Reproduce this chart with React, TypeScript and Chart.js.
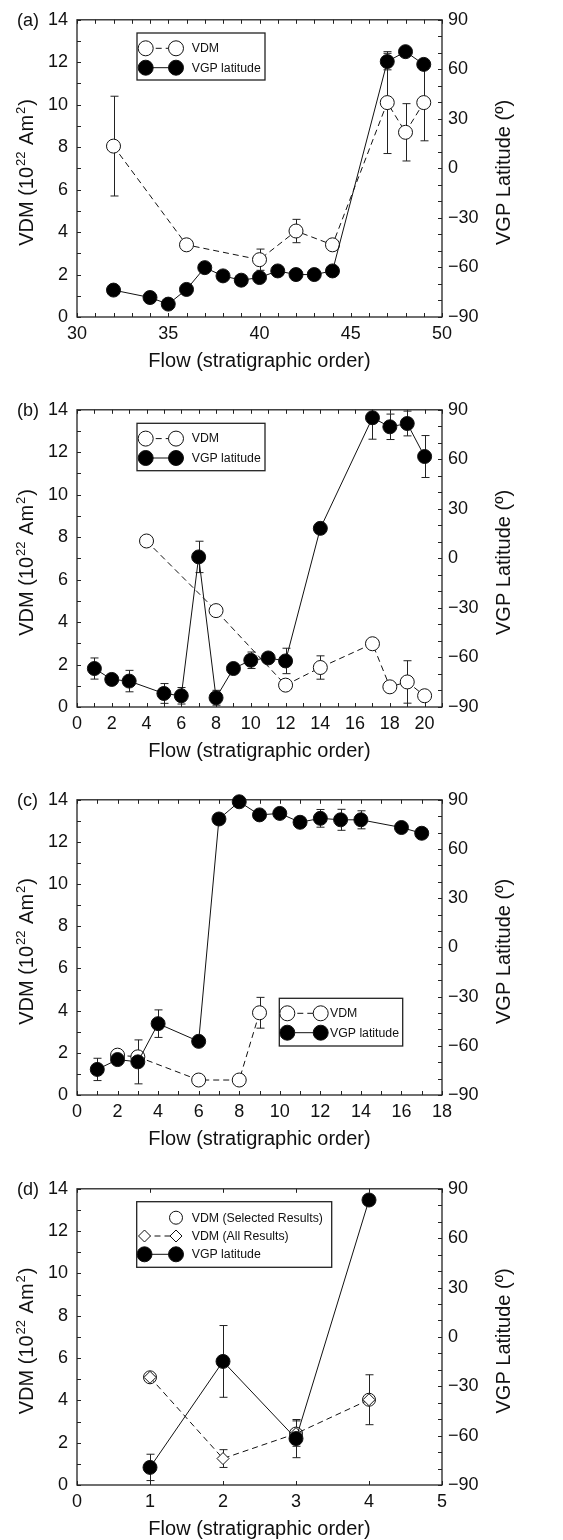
import React, { useEffect, useRef } from 'react';
import { Chart, registerables } from 'chart.js';
Chart.register(...registerables);

// ---------------- Panel (a) data ----------------
const aFlowVDM = [32, 36, 40, 42, 44, 47, 48, 49];
const aVDM = [8.05, 3.4, 2.7, 4.05, 3.4, 10.1, 8.7, 10.1];
const aVDMErr = [2.35, 0, 0.5, 0.55, 0, 2.4, 1.35, 1.8];
const aFlowVGP = [32, 34, 35, 36, 37, 38, 39, 40, 41, 42, 43, 44, 47, 48, 49];
const aVGP = [-73.7, -78.2, -82.2, -73.3, -60.1, -65.1, -67.7, -66.1, -62.1, -64.3, -64.3, -62.1, 64.7, 70.7, 63];
const aVGPErr = [0, 0, 0, 0, 0, 0, 0, 0, 0, 0, 0, 0, 5, 0, 0];
const aXTicks = [30, 35, 40, 45, 50];

// ---------------- Panel (b) data ----------------
const bFlowVDM = [4, 8, 12, 14, 17, 18, 19, 20];
const bVDM = [7.82, 4.54, 1.03, 1.86, 2.98, 0.95, 1.18, 0.53];
const bVDMErr = [0, 0, 0, 0.55, 0, 0, 1.0, 0];
const bFlowVGP = [1, 2, 3, 5, 6, 7, 8, 9, 10, 11, 12, 14, 17, 18, 19, 20];
const bVGP = [-66.7, -73.3, -74.3, -81.8, -83.2, 0.9, -84.4, -66.7, -61.7, -60.3, -62.1, 18.2, 85.2, 79.7, 81.7, 61.7];
const bVGPErr = [6.4, 0, 6.5, 6, 5, 9.5, 4.5, 0, 5, 0, 7.7, 0, 13, 7.7, 7.5, 12.7];
const bXTicks = [0, 2, 4, 6, 8, 10, 12, 14, 16, 18, 20];

// ---------------- Panel (c) data ----------------
const cFlowVDM = [2, 3, 6, 8, 9];
const cVDM = [1.89, 1.81, 0.71, 0.71, 3.9];
const cVDMErr = [0, 0, 0, 0, 0.73];
const cFlowVGP = [1, 2, 3, 4, 6, 7, 8, 9, 10, 11, 12, 13, 14, 16, 17];
const cVGP = [-74.4, -68.4, -69.8, -46.5, -57.3, 78.3, 88.8, 80.8, 81.7, 76.3, 78.7, 77.8, 77.8, 73.1, 69.6];
const cVGPErr = [6.8, 0, 13.4, 8.4, 0, 0, 0, 0, 0, 0, 5.4, 6.4, 5.5, 0, 0];
const cXTicks = [0, 2, 4, 6, 8, 10, 12, 14, 16, 18];

// ---------------- Panel (d) data ----------------
const dFlowAll = [1, 2, 3, 4];
const dVDMAll = [5.09, 1.25, 2.43, 4.03];
const dVDMAllErr = [0, 0.42, 0.6, 1.18];
const dFlowSel = [1, 3, 4];
const dVDMSel = [5.09, 2.43, 4.03];
const dFlowVGP = [1, 2, 3, 4];
const dVGP = [-79.3, -14.9, -61.8, 83.2];
const dVGPErr = [8, 21.8, 11.6, 0];
const dXTicks = [0, 1, 2, 3, 4, 5];

// ---------------- shared axis ticks ----------------
const vdmTicks = [0, 2, 4, 6, 8, 10, 12, 14];
const latTicks = [-90, -60, -30, 0, 30, 60, 90];

const FONT = 'Liberation Sans, Arial, Helvetica, sans-serif';
const INK = '#111';
const W = 563;
const PLOT_LEFT = 77;
const PLOT_RIGHT = 442;

type Style = 'open' | 'filled' | 'diamond';
type Series = {
  xs: number[];
  ys: number[];
  errs?: number[];
  axis: 'y' | 'y2';
  style: Style;
  line: 'solid' | 'dashed' | 'none';
  r: number;
};
type LegendItem = { label: string; style: Style; line: 'solid' | 'dashed' | 'none'; r: number; left: boolean };
type LegendCfg = { x: number; y: number; w: number; h: number; rows: number[]; mL: number; mR: number; tX: number; items: LegendItem[] };
type PanelCfg = {
  label: string;
  top: number;
  height: number;
  plotTop: number;
  plotBottom: number;
  xMin: number;
  xMax: number;
  xTicks: number[];
  xMinor: number;
  series: Series[];
  legend: LegendCfg;
};

const vgpItem: LegendItem = { label: 'VGP latitude', style: 'filled', line: 'solid', r: 7.5, left: true };
const vdmItem: LegendItem = { label: 'VDM', style: 'open', line: 'dashed', r: 7.5, left: true };

const panels: PanelCfg[] = [
  {
    label: '(a)', top: 0, height: 385, plotTop: 18, plotBottom: 317,
    xMin: 30, xMax: 50, xTicks: aXTicks, xMinor: 1,
    series: [
      { xs: aFlowVGP, ys: aVGP, errs: aVGPErr, axis: 'y2', style: 'filled', line: 'solid', r: 7 },
      { xs: aFlowVDM, ys: aVDM, errs: aVDMErr, axis: 'y', style: 'open', line: 'dashed', r: 7 },
    ],
    legend: { x: 137, y: 33, w: 128, h: 47, rows: [48.3, 67.7], mL: 145.7, mR: 176, tX: 191.7, items: [vdmItem, vgpItem] },
  },
  {
    label: '(b)', top: 390, height: 385, plotTop: 18, plotBottom: 317,
    xMin: 0, xMax: 21, xTicks: bXTicks, xMinor: 1,
    series: [
      { xs: bFlowVGP, ys: bVGP, errs: bVGPErr, axis: 'y2', style: 'filled', line: 'solid', r: 7 },
      { xs: bFlowVDM, ys: bVDM, errs: bVDMErr, axis: 'y', style: 'open', line: 'dashed', r: 7 },
    ],
    legend: { x: 137, y: 33.3, w: 128, h: 47.4, rows: [48.6, 68], mL: 145.7, mR: 176, tX: 191.7, items: [vdmItem, vgpItem] },
  },
  {
    label: '(c)', top: 780, height: 385, plotTop: 18, plotBottom: 315,
    xMin: 0, xMax: 18, xTicks: cXTicks, xMinor: 1,
    series: [
      { xs: cFlowVGP, ys: cVGP, errs: cVGPErr, axis: 'y2', style: 'filled', line: 'solid', r: 7 },
      { xs: cFlowVDM, ys: cVDM, errs: cVDMErr, axis: 'y', style: 'open', line: 'dashed', r: 7 },
    ],
    legend: { x: 279.3, y: 218.3, w: 123.4, h: 47.7, rows: [233.3, 252.7], mL: 287.3, mR: 320.7, tX: 330, items: [vdmItem, vgpItem] },
  },
  {
    label: '(d)', top: 1169, height: 371, plotTop: 18, plotBottom: 316,
    xMin: 0, xMax: 5, xTicks: dXTicks, xMinor: 1,
    series: [
      { xs: dFlowVGP, ys: dVGP, errs: dVGPErr, axis: 'y2', style: 'filled', line: 'solid', r: 7 },
      { xs: dFlowAll, ys: dVDMAll, errs: dVDMAllErr, axis: 'y', style: 'diamond', line: 'dashed', r: 6 },
      { xs: dFlowSel, ys: dVDMSel, axis: 'y', style: 'open', line: 'none', r: 6.5 },
    ],
    legend: {
      x: 136.7, y: 32.7, w: 195, h: 65.6, rows: [48.7, 67, 85.3], mL: 144.5, mR: 176, tX: 191.7,
      items: [
        { label: 'VDM (Selected Results)', style: 'open', line: 'none', r: 6.5, left: false },
        { label: 'VDM (All Results)', style: 'diamond', line: 'dashed', r: 6, left: true },
        { label: 'VGP latitude', style: 'filled', line: 'solid', r: 7.5, left: true },
      ],
    },
  },
];

function drawMarker(ctx: CanvasRenderingContext2D, style: Style, x: number, y: number, r: number) {
  ctx.save();
  ctx.lineWidth = 1;
  ctx.strokeStyle = INK;
  ctx.setLineDash([]);
  ctx.beginPath();
  if (style === 'diamond') {
    ctx.moveTo(x, y - r);
    ctx.lineTo(x + r, y);
    ctx.lineTo(x, y + r);
    ctx.lineTo(x - r, y);
    ctx.closePath();
  } else {
    ctx.arc(x, y, r, 0, Math.PI * 2);
  }
  ctx.fillStyle = style === 'filled' ? '#000' : '#fff';
  ctx.fill();
  ctx.stroke();
  ctx.restore();
}

function makePlugin(cfg: PanelCfg) {
  return {
    id: 'paneldeco',
    beforeDatasetsDraw(chart: any) {
      const ctx: CanvasRenderingContext2D = chart.ctx;
      const a = chart.chartArea;
      const xs = chart.scales.x;
      const ys = chart.scales.y;
      const y2 = chart.scales.y2;
      ctx.save();
      // frame
      ctx.strokeStyle = '#222';
      ctx.lineWidth = 1.3;
      ctx.strokeRect(a.left, a.top, a.right - a.left, a.bottom - a.top);
      // inward ticks
      ctx.lineWidth = 1;
      ctx.beginPath();
      for (let v = cfg.xMin; v <= cfg.xMax + 1e-9; v += cfg.xMinor) {
        const px = Math.round(xs.getPixelForValue(v)) + 0.5;
        ctx.moveTo(px, a.bottom);
        ctx.lineTo(px, a.bottom - 4);
        ctx.moveTo(px, a.top);
        ctx.lineTo(px, a.top + 4);
      }
      for (let v = 0; v <= 14; v += 1) {
        const py = Math.round(ys.getPixelForValue(v)) + 0.5;
        ctx.moveTo(a.left, py);
        ctx.lineTo(a.left + 4, py);
      }
      for (let v = -90; v <= 90; v += 10) {
        const py = Math.round(y2.getPixelForValue(v)) + 0.5;
        ctx.moveTo(a.right, py);
        ctx.lineTo(a.right - 4, py);
      }
      ctx.stroke();

      // error bars
      ctx.save();
      ctx.beginPath();
      ctx.rect(a.left, a.top, a.right - a.left, a.bottom - a.top);
      ctx.clip();
      ctx.strokeStyle = '#222';
      ctx.lineWidth = 1;
      cfg.series.forEach((s) => {
        if (!s.errs) return;
        const sc = chart.scales[s.axis];
        s.xs.forEach((xv, i) => {
          const e = s.errs![i];
          if (!e) return;
          const px = Math.round(xs.getPixelForValue(xv)) + 0.5;
          const pt = sc.getPixelForValue(s.ys[i] + e);
          const pb = sc.getPixelForValue(s.ys[i] - e);
          ctx.beginPath();
          ctx.moveTo(px, pt);
          ctx.lineTo(px, pb);
          ctx.moveTo(px - 4, pt);
          ctx.lineTo(px + 4, pt);
          ctx.moveTo(px - 4, pb);
          ctx.lineTo(px + 4, pb);
          ctx.stroke();
        });
      });
      ctx.restore();
      ctx.restore();
    },
    afterDatasetsDraw(chart: any) {
      const ctx: CanvasRenderingContext2D = chart.ctx;
      const a = chart.chartArea;
      const lg = cfg.legend;
      ctx.save();
      // legend box
      ctx.fillStyle = '#fff';
      ctx.fillRect(lg.x, lg.y, lg.w, lg.h);
      ctx.strokeStyle = '#222';
      ctx.lineWidth = 1.3;
      ctx.strokeRect(lg.x, lg.y, lg.w, lg.h);
      lg.items.forEach((it, i) => {
        const ry = lg.rows[i];
        if (it.line !== 'none') {
          ctx.beginPath();
          ctx.strokeStyle = INK;
          ctx.lineWidth = 1;
          ctx.setLineDash(it.line === 'dashed' ? [6, 4] : []);
          ctx.moveTo(lg.mL, ry);
          ctx.lineTo(lg.mR, ry);
          ctx.stroke();
          ctx.setLineDash([]);
        }
        if (it.left) drawMarker(ctx, it.style, lg.mL, ry, it.r);
        drawMarker(ctx, it.style, lg.mR, ry, it.r);
        ctx.fillStyle = INK;
        ctx.font = `12.3px ${FONT}`;
        ctx.textAlign = 'left';
        ctx.textBaseline = 'middle';
        ctx.fillText(it.label, lg.tX, ry + 0.5);
      });

      // panel label
      ctx.fillStyle = INK;
      ctx.font = `18px ${FONT}`;
      ctx.textAlign = 'left';
      ctx.textBaseline = 'middle';
      ctx.fillText(cfg.label, 17, a.top + 1);

      // x title
      ctx.font = `20px ${FONT}`;
      ctx.textAlign = 'center';
      ctx.textBaseline = 'alphabetic';
      ctx.fillText('Flow (stratigraphic order)', (a.left + a.right) / 2, a.bottom + 49.5);

      const midY = (a.top + a.bottom) / 2 + 4;
      // left title with superscripts
      ctx.save();
      ctx.translate(33.3, midY);
      ctx.rotate(-Math.PI / 2);
      const parts: { t: string; sup: boolean }[] = [
        { t: 'VDM (10', sup: false },
        { t: '22', sup: true },
        { t: ' Am', sup: false },
        { t: '2', sup: true },
        { t: ')', sup: false },
      ];
      const big = `20px ${FONT}`;
      const small = `13px ${FONT}`;
      let total = 0;
      const widths = parts.map((p) => {
        ctx.font = p.sup ? small : big;
        const w = ctx.measureText(p.t).width + (p.sup ? 2 : 0);
        total += w;
        return w;
      });
      let cx = -total / 2;
      ctx.textAlign = 'left';
      ctx.textBaseline = 'alphabetic';
      parts.forEach((p, i) => {
        ctx.font = p.sup ? small : big;
        ctx.fillText(p.t, cx + (p.sup ? 1 : 0), p.sup ? -8 : 0);
        cx += widths[i];
      });
      ctx.restore();

      // right title
      ctx.save();
      ctx.translate(510, midY);
      ctx.rotate(-Math.PI / 2);
      ctx.font = big;
      ctx.textAlign = 'center';
      ctx.textBaseline = 'alphabetic';
      ctx.fillText('VGP Latitude (\u00BA)', 0, 0);
      ctx.restore();

      ctx.restore();
    },
  };
}

function buildConfig(cfg: PanelCfg): any {
  const tickFont = { family: FONT, size: 18 };
  const datasets = cfg.series.map((s) => ({
    data: s.xs.map((x, i) => ({ x, y: s.ys[i] })),
    yAxisID: s.axis,
    showLine: s.line !== 'none',
    borderColor: INK,
    borderWidth: 1,
    borderDash: s.line === 'dashed' ? [6, 4] : [],
    pointStyle: s.style === 'diamond' ? 'rectRot' : 'circle',
    pointRadius: s.r,
    pointHoverRadius: s.r,
    pointBorderWidth: 1,
    pointBorderColor: INK,
    pointBackgroundColor: s.style === 'filled' ? '#000' : '#fff',
    tension: 0,
    clip: false,
    fill: false,
  }));
  return {
    type: 'scatter',
    data: { datasets },
    options: {
      animation: false,
      responsive: false,
      maintainAspectRatio: false,
      devicePixelRatio: 1,
      events: [],
      layout: { padding: { top: cfg.plotTop, left: 0, right: 0, bottom: 0 } },
      plugins: { legend: { display: false }, tooltip: { enabled: false }, title: { display: false } },
      scales: {
        x: {
          type: 'linear',
          position: 'bottom',
          min: cfg.xMin,
          max: cfg.xMax,
          afterBuildTicks: (s: any) => {
            s.ticks = cfg.xTicks.map((v) => ({ value: v }));
          },
          afterFit: (s: any) => {
            s.height = cfg.height - cfg.plotBottom;
          },
          grid: { display: false, drawTicks: false },
          border: { display: false },
          ticks: { font: tickFont, color: INK, padding: 6, maxRotation: 0, autoSkip: false },
        },
        y: {
          type: 'linear',
          position: 'left',
          min: 0,
          max: 14,
          afterBuildTicks: (s: any) => {
            s.ticks = vdmTicks.map((v) => ({ value: v }));
          },
          afterFit: (s: any) => {
            s.width = PLOT_LEFT;
          },
          grid: { display: false, drawTicks: false },
          border: { display: false },
          ticks: { font: tickFont, color: INK, padding: 9, autoSkip: false },
        },
        y2: {
          type: 'linear',
          position: 'right',
          min: -90,
          max: 90,
          afterBuildTicks: (s: any) => {
            s.ticks = latTicks.map((v) => ({ value: v }));
          },
          afterFit: (s: any) => {
            s.width = W - PLOT_RIGHT;
          },
          grid: { display: false, drawTicks: false },
          border: { display: false },
          ticks: {
            font: tickFont,
            color: INK,
            padding: 6,
            autoSkip: false,
            callback: (v: any) => String(v).replace('-', '\u2212'),
          },
        },
      },
    },
    plugins: [makePlugin(cfg)],
  };
}

function Panel({ cfg }: { cfg: PanelCfg }) {
  const ref = useRef<HTMLCanvasElement>(null);
  useEffect(() => {
    const chart = new Chart(ref.current as HTMLCanvasElement, buildConfig(cfg));
    return () => chart.destroy();
  }, [cfg]);
  return (
    <canvas
      ref={ref}
      width={W}
      height={cfg.height}
      style={{ position: 'absolute', left: 0, top: cfg.top, width: W, height: cfg.height, display: 'block' }}
    />
  );
}

export default function App() {
  return (
    <div style={{ position: 'absolute', left: 0, top: 0, width: W, height: 1540, overflow: 'hidden', background: '#fff' }}>
      {panels.map((p) => (
        <Panel key={p.label} cfg={p} />
      ))}
    </div>
  );
}
